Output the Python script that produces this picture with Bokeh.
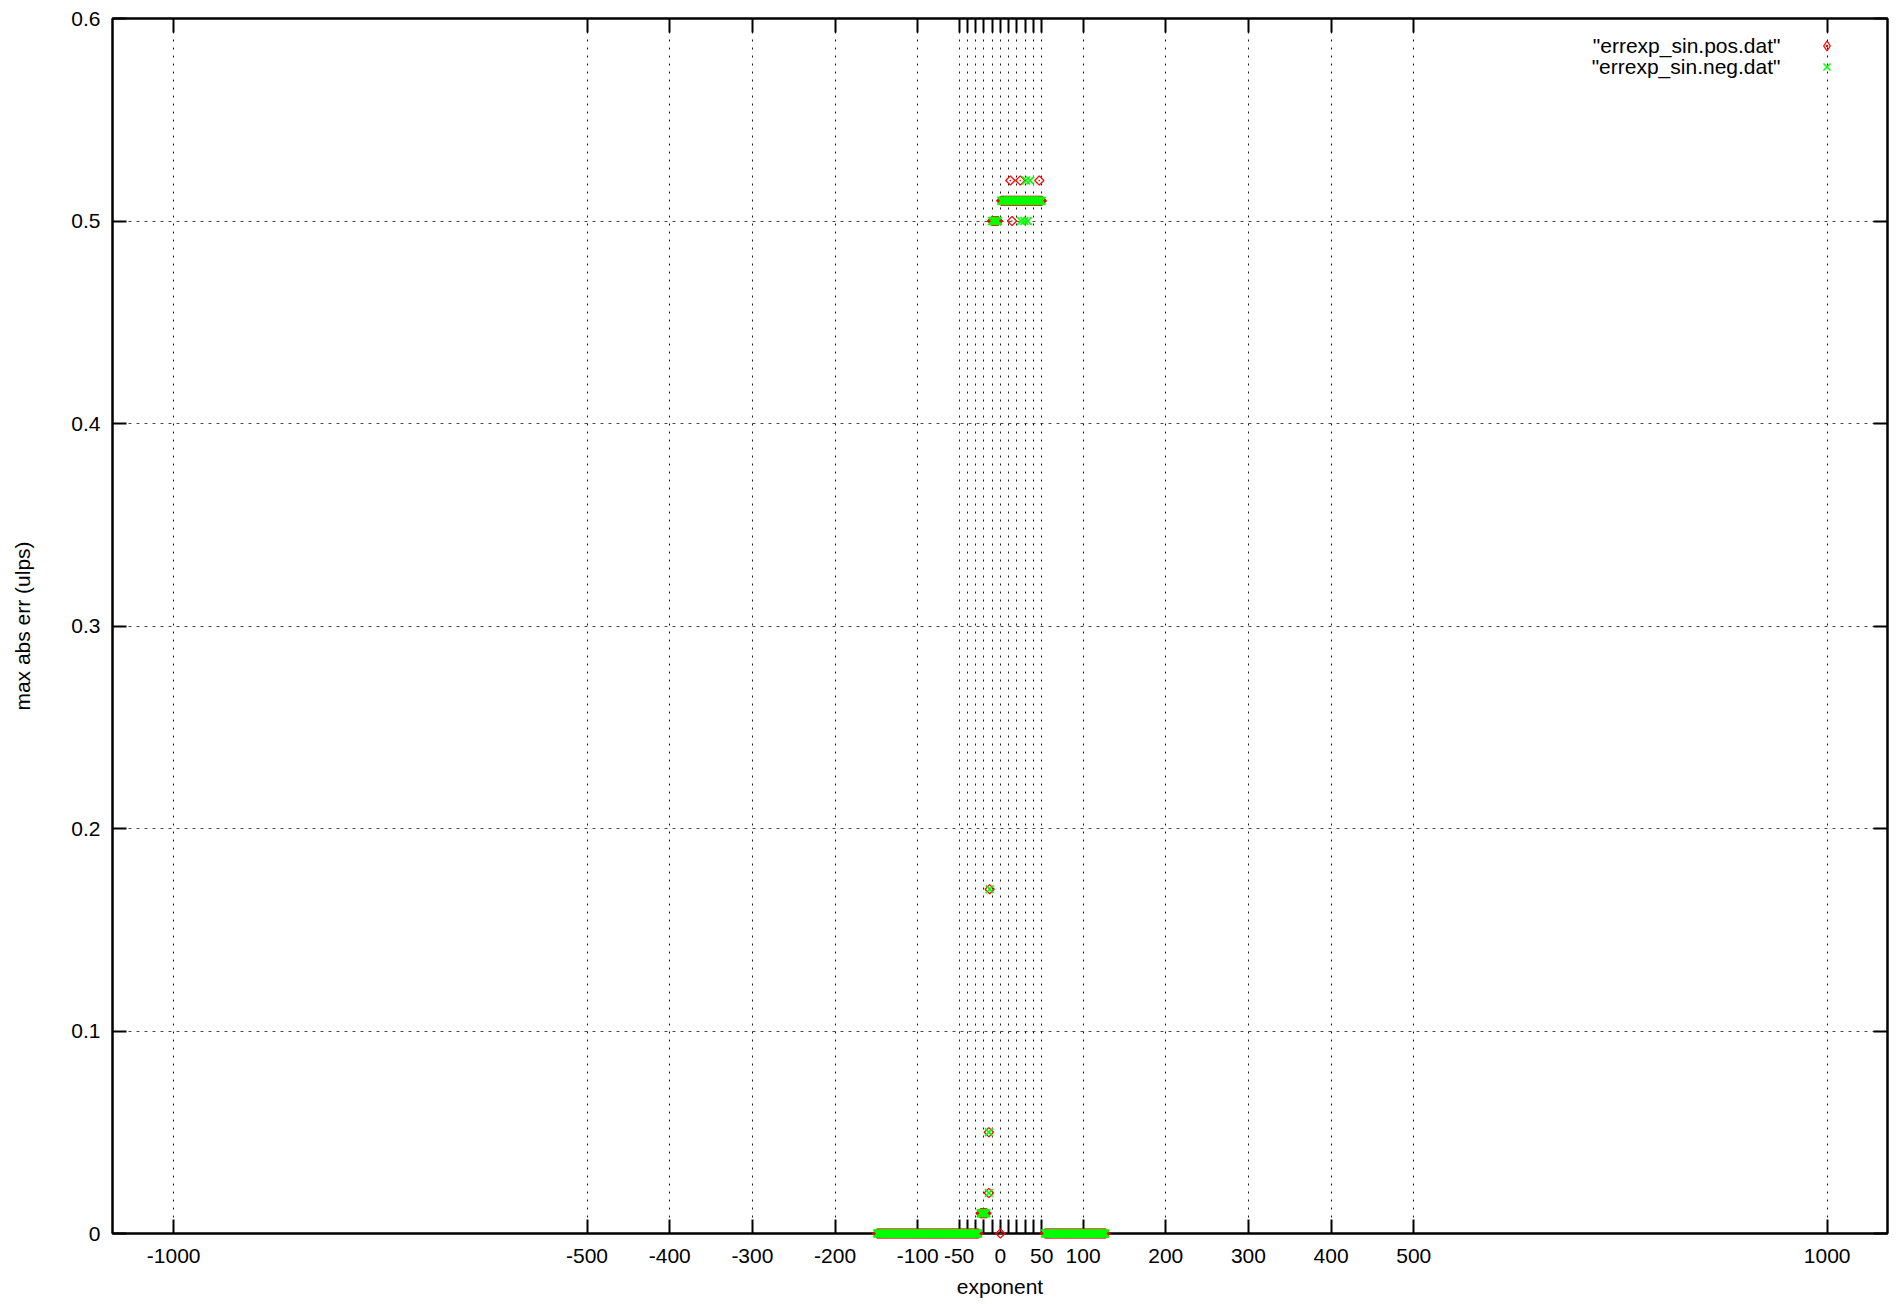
import numpy as np
from bokeh.plotting import figure
from bokeh.models import Range1d, FixedTicker, LinearAxis, Legend, LegendItem, Label
from bokeh.embed import file_html
from bokeh.resources import INLINE

# ---------------- tick values / labels ----------------
x_tick_values = [-1000, -500, -400, -300, -200, -100, -50, 0, 50, 100, 200, 300, 400, 500, 1000]
x_tick_labels = ["-1000", "-500", "-400", "-300", "-200", "-100", "-50", "0", "50",
                 "100", "200", "300", "400", "500", "1000"]
x_unlabeled_ticks = [-40, -30, -20, -10, 10, 20, 30, 40]
y_tick_values = [0, 0.1, 0.2, 0.3, 0.4, 0.5, 0.6]
y_tick_labels = ["0", "0.1", "0.2", "0.3", "0.4", "0.5", "0.6"]

# ---------------- data ----------------
# exponents (integer float exponents) and max abs err (ulps)
zero_low_exp = list(range(-149, -26))
zero_low_err = [0.0] * len(zero_low_exp)
small_exp = list(range(-24, -16))
small_err = [0.01] * len(small_exp)
mid_exp = [-14, -14, -13]
mid_err = [0.02, 0.05, 0.17]
half_exp = list(range(-10, -2))
half_err = [0.5] * len(half_exp)
half1_exp = list(range(1, 51))
half1_err = [0.51] * len(half1_exp)
zero_high_exp = list(range(54, 128))
zero_high_err = [0.0] * len(zero_high_exp)

pos_extra_exp = [0, 14, 12, 24, 47]
pos_extra_err = [0.0, 0.5, 0.52, 0.52, 0.52]
neg_extra_exp = [25, 29, 33, 31, 36]
neg_extra_err = [0.5, 0.5, 0.5, 0.52, 0.52]

pos_x = zero_low_exp + small_exp + mid_exp + half_exp + half1_exp + zero_high_exp + pos_extra_exp
pos_y = zero_low_err + small_err + mid_err + half_err + half1_err + zero_high_err + pos_extra_err
neg_x = zero_low_exp + small_exp + mid_exp + half_exp + half1_exp + zero_high_exp + neg_extra_exp
neg_y = zero_low_err + small_err + mid_err + half_err + half1_err + zero_high_err + neg_extra_err

series_names = ['"errexp_sin.pos.dat"', '"errexp_sin.neg.dat"']

FONT = "Liberation Sans"
FS = "21px"

p = figure(width=1896, height=1300, output_backend="svg", toolbar_location=None,
           x_range=Range1d(-1074, 1073), y_range=Range1d(0, 0.6),
           min_border_left=112, min_border_right=9, min_border_top=18, min_border_bottom=67)

p.outline_line_color = "black"
p.outline_line_width = 2
p.background_fill_color = "white"
p.border_fill_color = "white"

# axes
p.xaxis.ticker = FixedTicker(ticks=x_tick_values, minor_ticks=x_unlabeled_ticks)
p.yaxis.ticker = FixedTicker(ticks=y_tick_values)
p.xaxis.major_label_overrides = {v: l for v, l in zip(x_tick_values, x_tick_labels)}
p.yaxis.major_label_overrides = {v: l for v, l in zip(y_tick_values, y_tick_labels)}
p.xaxis.axis_label = "exponent"
p.yaxis.axis_label = "max abs err (ulps)"

for ax in (p.xaxis[0], p.yaxis[0]):
    ax.major_tick_in = 14
    ax.major_tick_out = 0
    ax.minor_tick_in = 14
    ax.minor_tick_out = 0
    ax.major_tick_line_width = 2
    ax.minor_tick_line_width = 2
    ax.major_tick_line_color = "black"
    ax.minor_tick_line_color = "black"
    ax.axis_line_width = 2
    ax.axis_line_color = "black"
    ax.major_label_text_font = FONT
    ax.major_label_text_font_size = FS
    ax.major_label_text_color = "black"
    ax.axis_label_text_font = FONT
    ax.axis_label_text_font_size = FS
    ax.axis_label_text_font_style = "normal"
    ax.axis_label_text_color = "black"

p.xaxis.major_label_standoff = 15
p.xaxis.axis_label_standoff = 9
p.yaxis.major_label_standoff = 12
p.yaxis.axis_label_standoff = 34

# mirrored ticks (top / right), drawn as unlabeled ticks
top_ax = LinearAxis(ticker=FixedTicker(ticks=[], minor_ticks=x_tick_values + x_unlabeled_ticks),
                    major_tick_in=0, major_tick_out=0, major_label_standoff=0,
                    minor_tick_in=14, minor_tick_out=0, minor_tick_line_width=2,
                    minor_tick_line_color="black", axis_line_width=2, axis_line_color="black")
right_ax = LinearAxis(ticker=FixedTicker(ticks=[], minor_ticks=y_tick_values),
                      major_tick_in=0, major_tick_out=0, major_label_standoff=0,
                      minor_tick_in=14, minor_tick_out=0, minor_tick_line_width=2,
                      minor_tick_line_color="black", axis_line_width=2, axis_line_color="black")
p.add_layout(top_ax, "above")
p.add_layout(right_ax, "right")

# grid
p.xgrid.ticker = FixedTicker(ticks=x_tick_values, minor_ticks=x_unlabeled_ticks)
p.ygrid.ticker = FixedTicker(ticks=y_tick_values)
p.xgrid.grid_line_color = "black"
p.xgrid.grid_line_dash = "2 6"
p.xgrid.grid_line_width = 1
p.xgrid.grid_line_alpha = 0.9
p.xgrid.minor_grid_line_color = "black"
p.xgrid.minor_grid_line_dash = "2 6"
p.xgrid.minor_grid_line_width = 1
p.xgrid.minor_grid_line_alpha = 0.9
p.ygrid.grid_line_color = "black"
p.ygrid.grid_line_dash = "3 5"
p.ygrid.grid_line_width = 1
p.ygrid.grid_line_alpha = 0.7

# data (overlay level: points are not clipped at the frame edge, as in the reference)
pos_r = p.scatter(pos_x, pos_y, marker="square_dot", angle=np.pi / 4, size=6.5,
                  line_color="#ff0000", fill_color=None, line_width=1.3, level="overlay")
neg_r = p.scatter(neg_x, neg_y, marker="x", size=11, line_color="#00ff00", line_width=1.5,
                  level="overlay")

# legend swatches (same styles as the series; NaN so nothing is drawn in the plot)
pos_key = p.scatter([np.nan], [np.nan], marker="diamond_dot", size=12, line_color="#ff0000",
                    fill_color=None, line_width=1.3)
neg_key = p.scatter([np.nan], [np.nan], marker="x", size=11, line_color="#00ff00", line_width=1.5)

# legend (glyphs on the right, text right-aligned to their left)
for key, loc in ((pos_key, (1702, 1175)), (neg_key, (1702, 1154))):
    lg = Legend(items=[LegendItem(label=" ", renderers=[key])],
                location=loc, padding=0, margin=0, spacing=0,
                glyph_width=25, glyph_height=25, label_width=0, label_height=25,
                label_standoff=0, border_line_color=None, background_fill_alpha=0,
                label_text_font_size="1px")
    p.add_layout(lg)

for txt, yy in zip(series_names, (1188, 1167)):
    p.add_layout(Label(x=1668, y=yy, x_units="screen", y_units="screen", text=txt,
                       text_align="right", text_baseline="middle",
                       text_font=FONT, text_font_size=FS, text_color="black"))

open("out.html", "w").write(file_html(p, INLINE))
